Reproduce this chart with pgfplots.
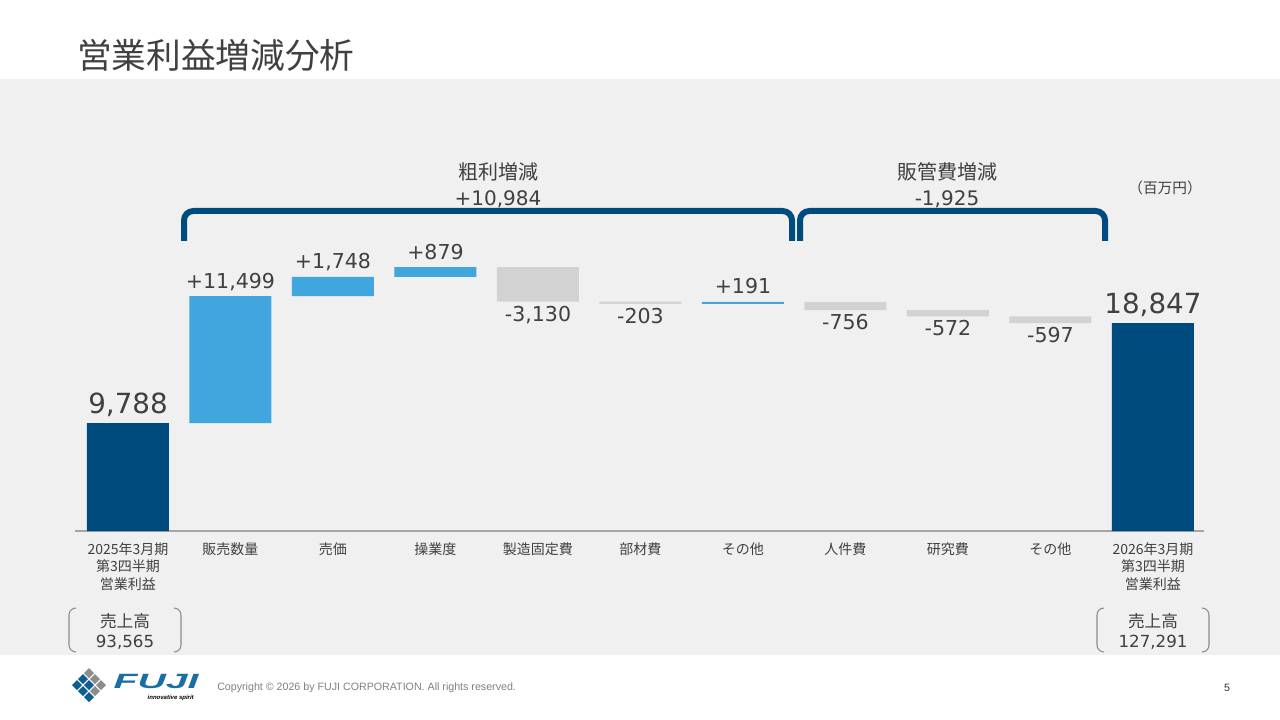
\documentclass[border=0pt]{standalone}
\usepackage{fontspec}
\setmainfont{Noto Sans CJK JP}
\newfontfamily\num{DejaVu Sans}
\newfontfamily\lat{Liberation Sans}
\usepackage{pgfplots}
\pgfplotsset{compat=1.18}
\usepackage{pgfplotstable}

\definecolor{dkblue}{HTML}{004B7D}
\definecolor{ltblue}{HTML}{40A6DD}
\definecolor{negray}{HTML}{D2D2D2}
\definecolor{bg}{HTML}{F0F0F0}
\definecolor{txt}{HTML}{404040}
\definecolor{axisgray}{HTML}{A6A6A6}
\definecolor{logogray}{HTML}{8C8C8C}

% waterfall: invisible base + visible part
\pgfplotstableread{
x base total pos neg
0  0     9788  0     0
1  9788  0     11499 0
2  21287 0     1748  0
3  23035 0     879   0
4  20784 0     0     3130
5  20581 0     0     203
6  20581 0     191   0
7  20016 0     0     756
8  19444 0     0     572
9  18847 0     0     597
10 0     18847 0     0
}\wf

\begin{document}
\begin{tikzpicture}
\begin{scope}[x=0.75pt,y=-0.75pt]
  \useasboundingbox (0,0) rectangle (1280,720);
  \fill[white] (0,0) rectangle (1280,720);
  \fill[bg] (0,79) rectangle (1280,655);
  % title
  \node[anchor=west, text=txt, font=\fontsize{26}{30}\selectfont, inner sep=0pt] at (77,55) {営業利益増減分析};
  % brackets
  \draw[dkblue, line width=4.5pt, rounded corners=7pt] (184,241) -- (184,211) -- (792,211) -- (792,241);
  \draw[dkblue, line width=4.5pt, rounded corners=7pt] (800,241) -- (800,211) -- (1105,211) -- (1105,241);
  \node[text=txt, font=\fontsize{15}{18}\selectfont] at (498,172) {粗利増減};
  \node[text=txt, font=\num\fontsize{15}{18}\selectfont] at (498,199) {+10,984};
  \node[text=txt, font=\fontsize{15}{18}\selectfont] at (947,172) {販管費増減};
  \node[text=txt, font=\num\fontsize{15}{18}\selectfont] at (947,199) {-1,925};
  \node[text=txt, font=\fontsize{11}{13}\selectfont] at (1165,188) {（百万円）};
  % sales boxes
  \draw[logogray, line width=0.8pt] (76,608) to[out=180,in=90] (69,615) -- (69,645) to[out=-90,in=180] (76,652);
  \draw[logogray, line width=0.8pt] (174,608) to[out=0,in=90] (181,615) -- (181,645) to[out=-90,in=0] (174,652);
  \node[text=txt, font=\fontsize{12.5}{15}\selectfont] at (125,621) {売上高};
  \node[text=txt, font=\num\fontsize{12.5}{15}\selectfont] at (125,642) {93,565};
  \draw[logogray, line width=0.8pt] (1104,608) to[out=180,in=90] (1097,615) -- (1097,645) to[out=-90,in=180] (1104,652);
  \draw[logogray, line width=0.8pt] (1202,608) to[out=0,in=90] (1209,615) -- (1209,645) to[out=-90,in=0] (1202,652);
  \node[text=txt, font=\fontsize{12.5}{15}\selectfont] at (1153,621) {売上高};
  \node[text=txt, font=\num\fontsize{12.5}{15}\selectfont] at (1153,642) {127,291};
  % footer
  \foreach \i/\j/\c in {0/0/logogray,0/1/dkblue!80!ltblue,1/0/logogray,0/2/dkblue!80!ltblue,1/1/dkblue!80!ltblue,2/0/logogray,1/2/dkblue!80!ltblue,2/1/logogray,2/2/dkblue!80!ltblue}
    \fill[\c] ({89+(\i-\j)*6},{673+(\i+\j)*6-5}) -- ++(5,5) -- ++(-5,5) -- ++(-5,-5) -- cycle;
  \node[anchor=west, inner sep=0pt, text=dkblue!60!ltblue, font=\lat\bfseries\itshape\fontsize{15.5}{16}\selectfont, xscale=1.9] at (113,681) {FUJI};
  \node[anchor=east, inner sep=0pt, text=black, font=\lat\bfseries\itshape\fontsize{4.5}{5}\selectfont] at (194,698) {innovative spirit};
  \node[anchor=west, inner sep=0pt, text=gray, font=\lat\fontsize{8}{9}\selectfont] at (217,688) {Copyright © 2026 by FUJI CORPORATION. All rights reserved.};
  \node[inner sep=0pt, text=black!80, font=\lat\fontsize{8}{9}\selectfont] at (1227,688) {5};
\end{scope}

\begin{axis}[
  at={(56.25pt,-398.25pt)}, anchor=south west,
  scale only axis, width=846.75pt, height=248.27pt,
  xmin=-0.517, xmax=10.498, ymin=0, ymax=30000,
  ybar stacked, bar width=61.5pt,
  axis y line=none, ytick=\empty,
  axis x line*=bottom,
  x axis line style={draw=axisgray, line width=1.5pt, -},
  xtick={0,...,10}, major tick length=0pt,
  xticklabels={{2025年3月期\\第3四半期\\営業利益},販売数量,売価,操業度,製造固定費,部材費,その他,人件費,研究費,その他,{2026年3月期\\第3四半期\\営業利益}},
  xticklabel style={align=center, font=\fontsize{10.5}{13.1}\selectfont, text=txt, inner sep=0pt, yshift=-8.5pt},
  clip=false,
]
\addplot[draw=none, fill=none] table[x=x, y=base] {\wf};
\addplot[draw=none, fill=dkblue] table[x=x, y=total] {\wf};
\addplot[draw=none, fill=ltblue] table[x=x, y=pos] {\wf};
\addplot[draw=none, fill=negray] table[x=x, y=neg] {\wf};

\tikzset{up/.style={anchor=base, inner sep=0pt, text=txt, font=\num\fontsize{15.4}{18}\selectfont, yshift=6pt},
         dn/.style={anchor=north, inner sep=0pt, text=txt, font=\num\fontsize{15.4}{18}\selectfont, yshift=-3pt},
         big/.style={anchor=base, inner sep=0pt, text=txt, font=\num\fontsize{20.8}{24}\selectfont, yshift=7pt}}
\node[big] at (axis cs:0,9788) {9,788};
\node[up] at (axis cs:1,21287) {+11,499};
\node[up] at (axis cs:2,23035) {+1,748};
\node[up] at (axis cs:3,23914) {+879};
\node[dn] at (axis cs:4,20784) {-3,130};
\node[dn] at (axis cs:5,20581) {-203};
\node[up] at (axis cs:6,20772) {+191};
\node[dn] at (axis cs:7,20016) {-756};
\node[dn] at (axis cs:8,19444) {-572};
\node[dn] at (axis cs:9,18847) {-597};
\node[big] at (axis cs:10,18847) {18,847};
\end{axis}
\end{tikzpicture}
\end{document}
